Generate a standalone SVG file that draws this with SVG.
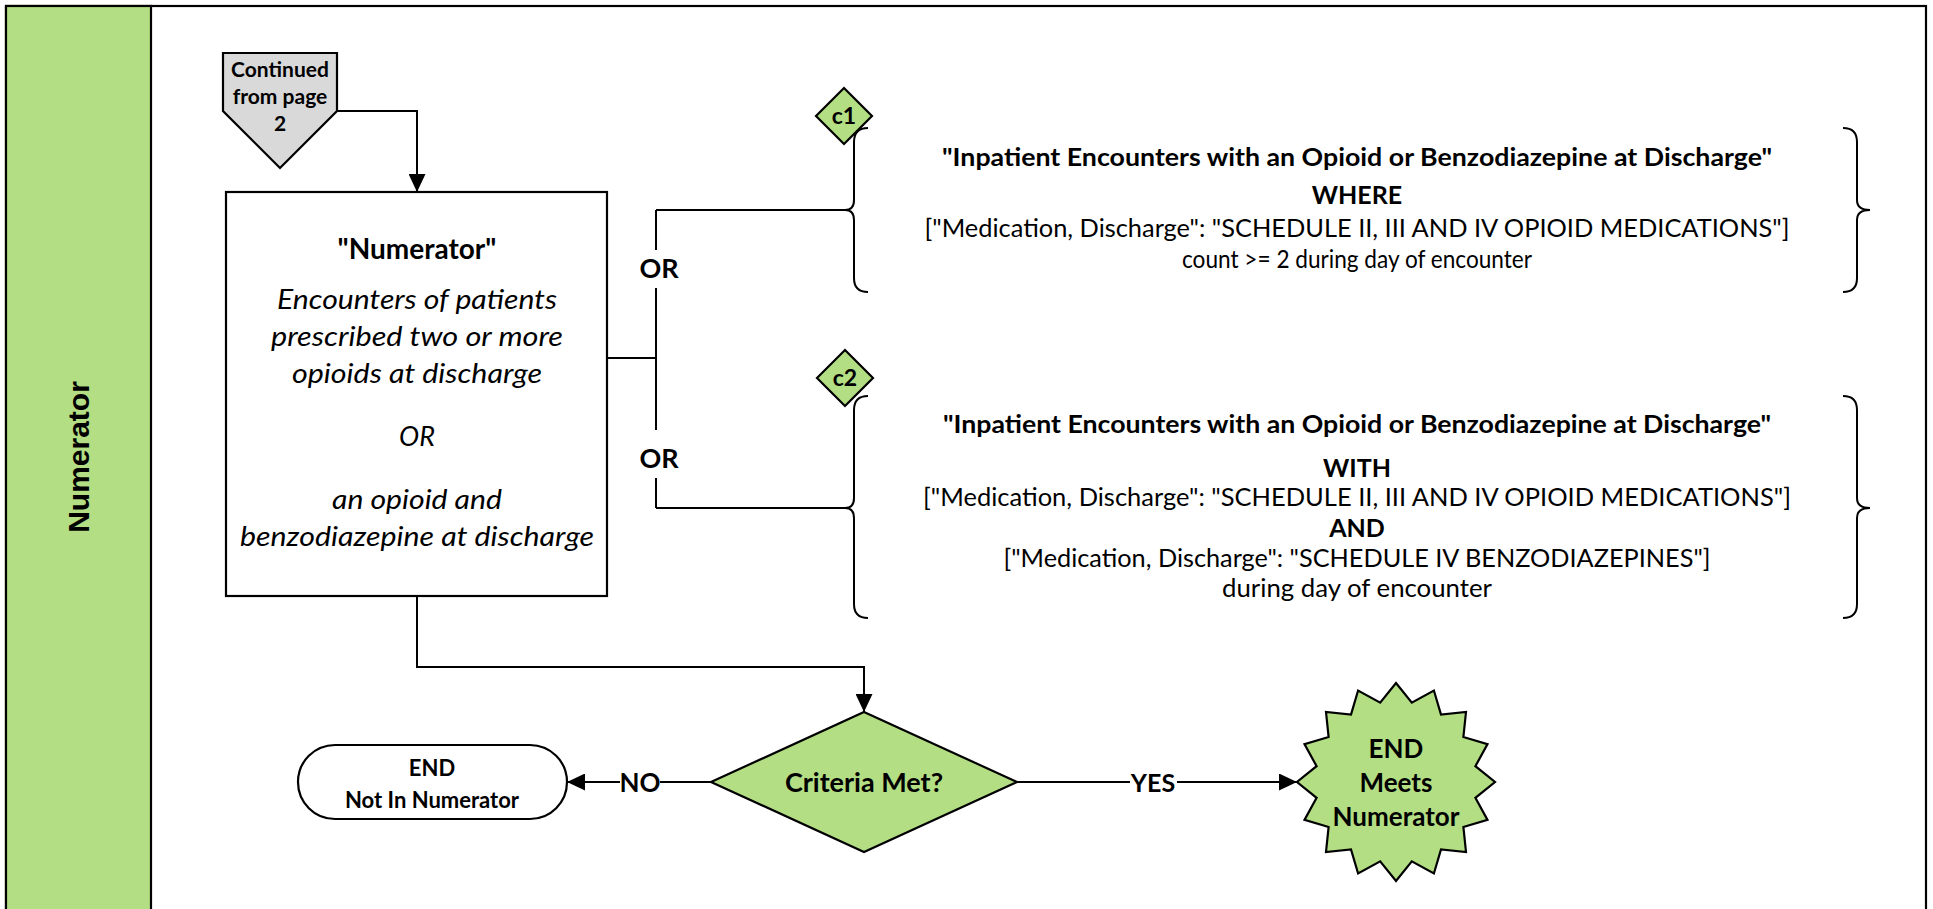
<svg xmlns="http://www.w3.org/2000/svg" width="1933" height="909" viewBox="0 0 1933 909">
<style>
.ln{fill:none;stroke:#000;stroke-width:2}
.sh{stroke:#000;stroke-width:2.2}
.g{fill:#b3de83}
.t{font-family:Lato,"Liberation Sans",sans-serif;fill:#000;text-anchor:middle}
.b{font-weight:bold}
.i{font-style:italic}
</style>
<defs>
<marker id="ah" markerWidth="18" markerHeight="17" refX="18" refY="8.5" orient="auto" markerUnits="userSpaceOnUse"><path d="M0,0 L18,8.5 L0,17 z" fill="#000"/></marker>
</defs>
<rect x="0" y="0" width="1933" height="909" fill="#fff"/>
<g id="lane">
<rect x="6" y="6" width="1920" height="920" fill="#fff" class="sh"/>
<rect x="6" y="6" width="145" height="920" class="g sh"/>
<text class="b" x="0" y="0" transform="translate(89,457) rotate(-90)" font-family="'Liberation Sans',Arial,sans-serif" font-size="30" text-anchor="middle">Numerator</text>
</g>
<g id="connectors">
<path class="ln" d="M337,111 H417 V192" marker-end="url(#ah)"/>
<path class="ln" d="M607,358 H656"/>
<path class="ln" d="M656,210 V250 M656,288 V430 M656,478 V508"/>
<path class="ln" d="M656,210 H845"/>
<path class="ln" d="M656,508 H845"/>
<path class="ln" d="M417,596 V667 H864 V712" marker-end="url(#ah)"/>
<path class="ln" d="M711,782 H660"/>
<path class="ln" d="M620,782 H567" marker-end="url(#ah)"/>
<path class="ln" d="M1017,782 H1130"/>
<path class="ln" d="M1177,782 H1297" marker-end="url(#ah)"/>
<text class="t b" x="659" y="278" font-size="27">OR</text>
<text class="t b" x="659" y="468" font-size="27">OR</text>
<text class="t b" x="640" y="792" font-size="26">NO</text>
<text class="t b" x="1153" y="792" font-size="25">YES</text>
</g>
<g id="continued">
<polygon points="223,53 337,53 337,111 280,168 223,111" fill="#d9d9d9" class="sh"/>
<text class="t b" x="280" y="77" font-size="21">Continued</text>
<text class="t b" x="280" y="104" font-size="21">from page</text>
<text class="t b" x="280" y="131" font-size="21">2</text>
</g>
<g id="numerator">
<rect x="226" y="192" width="381" height="404" fill="#fff" class="sh"/>
<text class="t b" x="417" y="259" font-size="28">"Numerator"</text>
<text class="t i" x="417" y="309" font-size="27" textLength="280" lengthAdjust="spacingAndGlyphs">Encounters of patients</text>
<text class="t i" x="417" y="346" font-size="27" textLength="292" lengthAdjust="spacingAndGlyphs">prescribed two or more</text>
<text class="t i" x="417" y="383" font-size="27" textLength="250" lengthAdjust="spacingAndGlyphs">opioids at discharge</text>
<text class="t i" x="417" y="446" font-size="27">OR</text>
<text class="t i" x="417" y="509" font-size="27" textLength="170" lengthAdjust="spacingAndGlyphs">an opioid and</text>
<text class="t i" x="417" y="546" font-size="27" textLength="354" lengthAdjust="spacingAndGlyphs">benzodiazepine at discharge</text>
</g>
<g id="c1">
<polygon points="844,88 872,116 844,144 816,116" class="g sh"/>
<text class="t b" x="844" y="124" font-size="23">c1</text>
</g>
<g id="c1-text">
<path class="ln" d="M868,128 Q854,128 854,142 L854,200 Q854,210 845,210 Q854,210 854,220 L854,278 Q854,292 868,292"/>
<path class="ln" d="M1843,128 Q1857,128 1857,142 L1857,200 Q1857,210 1870,210 Q1857,210 1857,220 L1857,278 Q1857,292 1843,292"/>
<text class="t b" x="1357" y="166" font-size="25" textLength="830" lengthAdjust="spacingAndGlyphs">"Inpatient Encounters with an Opioid or Benzodiazepine at Discharge"</text>
<text class="t b" x="1357" y="204" font-size="25">WHERE</text>
<text class="t" x="1357" y="237" font-size="25" textLength="865" lengthAdjust="spacingAndGlyphs">["Medication, Discharge": "SCHEDULE II, III AND IV OPIOID MEDICATIONS"]</text>
<text class="t" x="1357" y="268" font-size="25" textLength="350" lengthAdjust="spacingAndGlyphs">count &gt;= 2 during day of encounter</text>
</g>
<g id="c2">
<polygon points="845,350 873,378 845,406 817,378" class="g sh"/>
<text class="t b" x="845" y="386" font-size="23">c2</text>
</g>
<g id="c2-text">
<path class="ln" d="M868,396 Q854,396 854,410 L854,498 Q854,508 845,508 Q854,508 854,518 L854,604 Q854,618 868,618"/>
<path class="ln" d="M1843,396 Q1857,396 1857,410 L1857,498 Q1857,508 1870,508 Q1857,508 1857,518 L1857,604 Q1857,618 1843,618"/>
<text class="t b" x="1357" y="433" font-size="25" textLength="828" lengthAdjust="spacingAndGlyphs">"Inpatient Encounters with an Opioid or Benzodiazepine at Discharge"</text>
<text class="t b" x="1357" y="477" font-size="25">WITH</text>
<text class="t" x="1357" y="506" font-size="25" textLength="868" lengthAdjust="spacingAndGlyphs">["Medication, Discharge": "SCHEDULE  II, III AND IV OPIOID MEDICATIONS"]</text>
<text class="t b" x="1357" y="537" font-size="25">AND</text>
<text class="t" x="1357" y="567" font-size="25" textLength="707" lengthAdjust="spacingAndGlyphs">["Medication, Discharge": "SCHEDULE IV BENZODIAZEPINES"]</text>
<text class="t" x="1357" y="597" font-size="25" textLength="270" lengthAdjust="spacingAndGlyphs">during day of encounter</text>
</g>
<g id="criteria">
<polygon points="864,712 1017,782 864,852 711,782" class="g sh"/>
<text class="t b" x="864" y="792" font-size="27">Criteria Met?</text>
</g>
<g id="end-no">
<rect x="298" y="745" width="269" height="74" rx="37" fill="#fff" class="sh"/>
<text class="t b" x="432" y="776" font-size="22">END</text>
<text class="t b" x="432" y="808" font-size="22">Not In Numerator</text>
</g>
<g id="end-yes">
<polygon points="1396,683 1411.8,702.6 1433.9,690.5 1441,714.6 1466,712 1463.4,737 1487.5,744.1 1475.4,766.2 1495,782 1475.4,797.8 1487.5,819.9 1463.4,827 1466,852 1441,849.4 1433.9,873.5 1411.8,861.4 1396,881 1380.2,861.4 1358.1,873.5 1351,849.4 1326,852 1328.6,827 1304.5,819.9 1316.6,797.8 1297,782 1316.6,766.2 1304.5,744.1 1328.6,737 1326,712 1351,714.6 1358.1,690.5 1380.2,702.6" class="g sh"/>
<text class="t b" x="1396" y="758" font-size="26">END</text>
<text class="t b" x="1396" y="792" font-size="26">Meets</text>
<text class="t b" x="1396" y="826" font-size="26">Numerator</text>
</g>
</svg>
